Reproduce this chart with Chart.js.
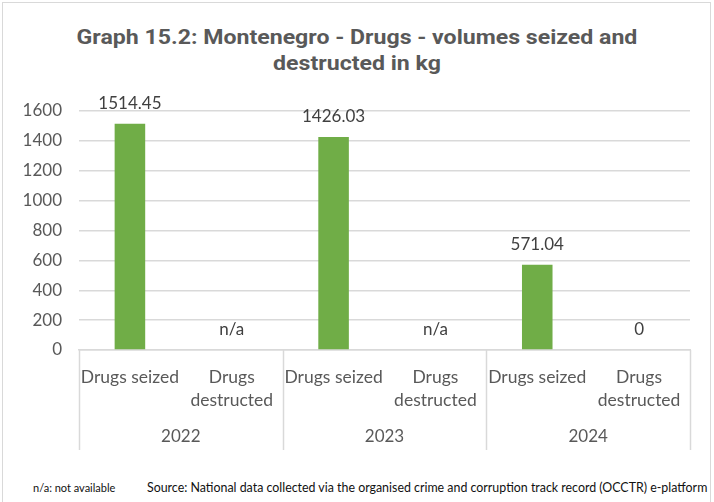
<!DOCTYPE html>
<html>
<head>
<meta charset="utf-8">
<script src="https://cdn.jsdelivr.net/npm/chart.js@4/dist/chart.umd.min.js"></script>
<style>
    html, body { margin: 0; padding: 0; background: #fff; }
    body { width: 714px; height: 502px; position: relative; overflow: hidden; }
    .frame {
        position: absolute; left: 2px; top: 2px; width: 709px; height: 520px;
        border: 1px solid #d9d9d9; box-sizing: border-box;
    }
    .title {
        position: absolute; left: 0; top: 24px; width: 714px; text-align: center;
        font-family: Roboto, sans-serif; font-weight: 700; font-size: 20px; line-height: 26px;
        color: #595959; transform: scaleX(1.155); transform-origin: 357px 0;
    }
    .chart-box { position: absolute; left: 0; top: 0; width: 714px; height: 460px; }
    .note {
        position: absolute; top: 481px; font-family: Lato, sans-serif; font-size: 11px;
        color: #111; white-space: nowrap;
    }
</style>
</head>
<body>
<div class="frame"></div>
<div class="title">Graph 15.2: Montenegro - Drugs - volumes seized and<br>destructed in kg</div>
<div class="chart-box"><canvas id="drugChart"></canvas></div>
<div class="note" style="left: 33px;">n/a: not available</div>
<div class="note" style="left: 147px; top: 480px; font-size: 12.4px;">Source: National data collected via the organised crime and corruption track record (OCCTR) e-platform</div>
<script>
document.addEventListener('DOMContentLoaded', () => {
    // Data
    const years = ['2022', '2023', '2024'];
    const subCategories = [['Drugs seized'], ['Drugs', 'destructed']];
    const volumes = [1514.45, null, 1426.03, null, 571.04, 0]; // null = n/a

    const yTicks = { min: 0, max: 1600, step: 200 };

    const textGray = '#595959';
    const gridGray = '#d9d9d9';

    // one label per bar: seized/destructed for each year
    const labels = [];
    years.forEach(() => subCategories.forEach(s => labels.push(s)));

    // value labels above bars, "n/a" for missing
    const valueLabels = {
        id: 'valueLabels',
        afterDatasetsDraw(chart) {
            const { ctx, scales: { x, y } } = chart;
            ctx.save();
            ctx.font = '17px Lato';
            ctx.fillStyle = '#404040';
            ctx.textAlign = 'center';
            ctx.textBaseline = 'middle';
            volumes.forEach((v, i) => {
                const px = x.getPixelForValue(i);
                const py = y.getPixelForValue(v === null ? 0 : v);
                ctx.fillText(v === null ? 'n/a' : String(v), px, py - 20);
            });
            ctx.restore();
        }
    };

    // multi-level axis: separators + year row
    const groupAxis = {
        id: 'groupAxis',
        afterDraw(chart) {
            const { ctx, chartArea, scales: { x } } = chart;
            const per = subCategories.length;
            const step = (chartArea.right - chartArea.left) / labels.length;
            ctx.save();
            ctx.strokeStyle = gridGray;
            ctx.lineWidth = 1.5;
            for (let g = 0; g <= years.length; g++) {
                const px = Math.round(chartArea.left + g * per * step) + 0.5;
                ctx.beginPath();
                ctx.moveTo(px, chartArea.bottom);
                ctx.lineTo(px, chartArea.bottom + 100);
                ctx.stroke();
            }
            ctx.font = '17px Lato';
            ctx.fillStyle = textGray;
            ctx.textAlign = 'center';
            ctx.textBaseline = 'middle';
            years.forEach((yr, g) => {
                const a = x.getPixelForValue(g * per);
                const b = x.getPixelForValue(g * per + per - 1);
                ctx.fillText(yr, (a + b) / 2, chartArea.bottom + 87);
            });
            ctx.restore();
        }
    };

    new Chart(document.getElementById('drugChart'), {
        type: 'bar',
        data: {
            labels: labels,
            datasets: [{
                data: volumes,
                backgroundColor: '#70ad47',
                categoryPercentage: 1,
                barPercentage: 0.3
            }]
        },
        options: {
            responsive: true,
            maintainAspectRatio: false,
            animation: false,
            layout: { padding: { top: 111, right: 24, bottom: 0, left: 0 } },
            plugins: {
                legend: { display: false },
                tooltip: { enabled: false }
            },
            scales: {
                y: {
                    min: yTicks.min,
                    max: yTicks.max,
                    ticks: {
                        stepSize: yTicks.step,
                        color: textGray,
                        font: { family: 'Lato', size: 17 },
                        padding: 17,
                        callback: v => String(v)
                    },
                    grid: { color: gridGray, lineWidth: 1.5, drawTicks: false },
                    border: { display: false },
                    afterFit(scale) { scale.width = 79; }
                },
                x: {
                    ticks: {
                        color: textGray,
                        font: { family: 'Lato', size: 17.5, lineHeight: 1.32 },
                        padding: 8,
                        maxRotation: 0,
                        autoSkip: false
                    },
                    grid: { display: false },
                    border: { display: true, color: gridGray, width: 1.5 },
                    afterFit(scale) { scale.height = 110; }
                }
            }
        },
        plugins: [valueLabels, groupAxis]
    });
});
</script>
</body>
</html>
